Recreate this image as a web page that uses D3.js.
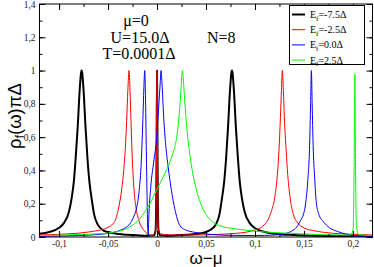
<!DOCTYPE html>
<html>
<head>
<meta charset="utf-8">
<script src="https://cdn.jsdelivr.net/npm/d3@7"></script>
<style>
  body { margin: 0; background: #fff; }
  svg { display: block; }
  .tick text { font-family: "Liberation Serif", serif; font-size: 9.5px; fill: #222; }
</style>
</head>
<body>
<div id="vis"></div>
<script>

// values, x in units of omega-mu
var blackX = [-0.12, -0.11, -0.10, -0.095, -0.09, -0.087, -0.085, -0.083, -0.081, -0.079, -0.0775, -0.077, -0.0765, -0.075, -0.073, -0.071, -0.069, -0.067, -0.064, -0.06, -0.055, -0.05, -0.04, -0.03, -0.02, -0.01, -0.003, -0.0015, -0.0007, 0, 0.0007, 0.0015, 0.003, 0.01, 0.02, 0.03, 0.04, 0.05, 0.055, 0.06, 0.0635, 0.0665, 0.0685, 0.0705, 0.0725, 0.0745, 0.076, 0.0765, 0.077, 0.0785, 0.0805, 0.0825, 0.0845, 0.0865, 0.0895, 0.0945, 0.0995, 0.11, 0.12, 0.14, 0.16, 0.18, 0.20, 0.22];
var blackY = [0.02, 0.03, 0.055, 0.085, 0.15, 0.24, 0.33, 0.48, 0.66, 0.88, 0.99, 1.0, 0.99, 0.88, 0.66, 0.47, 0.33, 0.24, 0.13, 0.07, 0.04, 0.03, 0.018, 0.013, 0.01, 0.008, 0.01, 0.04, 0.3, 1.0, 0.3, 0.04, 0.01, 0.008, 0.01, 0.013, 0.018, 0.03, 0.045, 0.075, 0.13, 0.24, 0.33, 0.47, 0.66, 0.88, 0.99, 1.0, 0.99, 0.88, 0.66, 0.48, 0.33, 0.24, 0.15, 0.085, 0.055, 0.03, 0.02, 0.012, 0.008, 0.006, 0.005, 0.004];

var redX = [-0.12, -0.11, -0.10, -0.09, -0.08, -0.07, -0.06, -0.05, -0.045, -0.042, -0.039, -0.036, -0.034, -0.0325, -0.031, -0.0298, -0.0286, -0.0276, -0.0266, -0.0256, -0.0245, -0.023, -0.021, -0.018, -0.014, -0.01, -0.005, -0.0015, -0.0007, 0, 0.0007, 0.0015, 0.003, 0.008, 0.02, 0.04, 0.06, 0.08, 0.09, 0.10, 0.108, 0.113, 0.117, 0.120, 0.1225, 0.1245, 0.126, 0.127, 0.128, 0.129, 0.130, 0.1318, 0.1335, 0.136, 0.139, 0.143, 0.15, 0.16, 0.17, 0.18, 0.20, 0.22];
var redY = [0.012, 0.014, 0.016, 0.019, 0.023, 0.03, 0.04, 0.058, 0.08, 0.11, 0.18, 0.29, 0.4, 0.52, 0.7, 0.88, 1.0, 0.88, 0.7, 0.52, 0.38, 0.25, 0.16, 0.09, 0.045, 0.02, 0.008, 0.03, 0.3, 1.0, 0.3, 0.05, 0.02, 0.015, 0.012, 0.012, 0.015, 0.022, 0.028, 0.042, 0.065, 0.1, 0.16, 0.23, 0.35, 0.52, 0.72, 0.88, 1.0, 0.88, 0.72, 0.52, 0.37, 0.23, 0.14, 0.09, 0.055, 0.038, 0.028, 0.022, 0.016, 0.012];

var blueX = [-0.12, -0.1, -0.08, -0.058, -0.048, -0.04, -0.034, -0.03, -0.027, -0.024, -0.0207, -0.0182, -0.0161, -0.0146, -0.0134, -0.0126, -0.0118, -0.011, -0.0102, -0.0095, -0.009, -0.0085, -0.0064, -0.0034, -0.0003, 0.0017, 0.0033, 0.0041, 0.005, 0.0068, 0.0089, 0.0114, 0.0147, 0.0181, 0.0232, 0.0283, 0.0385, 0.0538, 0.0742, 0.0997, 0.12, 0.1303, 0.1374, 0.1426, 0.1466, 0.1497, 0.1517, 0.1538, 0.1558, 0.1568, 0.1576, 0.1584, 0.1594, 0.1609, 0.1624, 0.165, 0.1701, 0.1762, 0.1844, 0.1926, 0.1997, 0.2028, 0.22];
var blueY = [0.004, 0.006, 0.009, 0.016, 0.024, 0.035, 0.05, 0.065, 0.085, 0.12, 0.18, 0.28, 0.45, 0.68, 0.9, 1.0, 0.85, 0.55, 0.25, 0.05, 0.01, 0.1, 0.3, 0.45, 0.6, 0.78, 0.93, 1.0, 0.93, 0.72, 0.55, 0.42, 0.28, 0.17, 0.07, 0.045, 0.028, 0.016, 0.01, 0.009, 0.012, 0.02, 0.035, 0.06, 0.1, 0.14, 0.2, 0.33, 0.55, 0.8, 1.0, 0.8, 0.55, 0.36, 0.22, 0.14, 0.09, 0.055, 0.033, 0.018, 0.008, 0.003, 0.002];

var greenX = [-0.12, -0.1, -0.08, -0.058, -0.043, -0.033, -0.028, -0.023, -0.0177, -0.0126, -0.0074, -0.0023, 0.0028, 0.0079, 0.013, 0.017, 0.0201, 0.0221, 0.0242, 0.0252, 0.0259, 0.0267, 0.0278, 0.0298, 0.0323, 0.0354, 0.0395, 0.0446, 0.0507, 0.0568, 0.064, 0.0793, 0.0997, 0.1252, 0.1558, 0.1865, 0.1977, 0.2002, 0.2012, 0.202, 0.2027, 0.2037, 0.2058, 0.22];
var greenY = [0.008, 0.011, 0.015, 0.02, 0.03, 0.045, 0.06, 0.08, 0.11, 0.15, 0.2, 0.26, 0.32, 0.38, 0.45, 0.52, 0.6, 0.7, 0.86, 0.96, 1.0, 0.96, 0.86, 0.7, 0.55, 0.42, 0.3, 0.2, 0.13, 0.09, 0.068, 0.05, 0.035, 0.025, 0.017, 0.012, 0.012, 0.05, 0.4, 0.98, 0.4, 0.06, 0.015, 0.008];

var seriesNames = ['E_f=-7.5Δ', 'E_f=-2.5Δ', 'E_f=0.0Δ', 'E_f=2.5Δ'];
var xTicks = [-0.1, -0.05, 0, 0.05, 0.1, 0.15, 0.2];
var yTicks = [0, 0.2, 0.4, 0.6, 0.8, 1, 1.2, 1.4];

var width = 374;
var height = 267;
var margin = { top: 4, right: 2, bottom: 30, left: 39 };

var x = d3.scaleLinear().domain([-0.12, 0.22]).range([margin.left + 0.5, width - margin.right + 0.5]);
var y = d3.scaleLinear().domain([0, 1.4]).range([height - margin.bottom, margin.top]);

var comma = function(v) { return String(+v.toFixed(3)).replace('.', ','); };

var svg = d3.select('#vis').append('svg')
  .attr('width', width)
  .attr('height', height);

svg.append('clipPath').attr('id', 'clip')
  .append('rect')
  .attr('x', x.range()[0]).attr('y', y.range()[1])
  .attr('width', x.range()[1] - x.range()[0])
  .attr('height', y.range()[0] - y.range()[1]);

var series = [
  { xs: blackX, ys: blackY, color: '#000000', w: 2 },
  { xs: redX, ys: redY, color: '#ff0000', w: 1 },
  { xs: blueX, ys: blueY, color: '#0000ff', w: 1 },
  { xs: greenX, ys: greenY, color: '#00ff00', w: 1 }
];

var line = d3.line()
  .x(function(d) { return x(d[0]); })
  .y(function(d) { return y(d[1]); })
  .curve(d3.curveMonotoneX);

var g = svg.append('g').attr('clip-path', 'url(#clip)');
series.forEach(function(s) {
  var pts = s.xs.map(function(v, i) { return [v, s.ys[i]]; });
  g.append('path')
    .datum(pts)
    .attr('fill', 'none')
    .attr('stroke', s.color)
    .attr('stroke-width', s.w)
    .attr('stroke-linejoin', 'round')
    .attr('d', line);
});

// axes, ticks pointing inside on all four sides
var x0 = y.range()[0], x1 = y.range()[1];
function drawAxis(axis, tr) {
  var a = svg.append('g').attr('transform', tr).call(axis);
  a.select('.domain').remove();
  a.selectAll('.tick line').attr('stroke', '#000');
  return a;
}
var xMinor = d3.range(-0.1, 0.2201, 0.025);
var yMinor = d3.range(0, 1.401, 0.1);

drawAxis(d3.axisBottom(x).tickValues(xTicks).tickSize(-6).tickPadding(3).tickFormat(comma), 'translate(0,' + x0 + ')');
drawAxis(d3.axisBottom(x).tickValues(xMinor).tickSize(-3).tickFormat(''), 'translate(0,' + x0 + ')');
drawAxis(d3.axisTop(x).tickValues(xTicks).tickSize(-6).tickFormat(''), 'translate(0,' + x1 + ')');
drawAxis(d3.axisTop(x).tickValues(xMinor).tickSize(-3).tickFormat(''), 'translate(0,' + x1 + ')');

var L = x.range()[0], R = x.range()[1];
drawAxis(d3.axisLeft(y).tickValues(yTicks).tickSize(-6).tickPadding(4).tickFormat(comma), 'translate(' + L + ',0)');
drawAxis(d3.axisLeft(y).tickValues(yMinor).tickSize(-3).tickFormat(''), 'translate(' + L + ',0)');
drawAxis(d3.axisRight(y).tickValues(yTicks).tickSize(-6).tickFormat(''), 'translate(' + R + ',0)');
drawAxis(d3.axisRight(y).tickValues(yMinor).tickSize(-3).tickFormat(''), 'translate(' + R + ',0)');

svg.append('rect')
  .attr('x', L).attr('y', x1)
  .attr('width', R - L).attr('height', x0 - x1)
  .attr('fill', 'none').attr('stroke', '#000').attr('stroke-width', 1);

// annotations
var serif = '"Liberation Serif", serif';
var notes = [['μ=0', 136, 26], ['U=15.0Δ', 140, 43], ['T=0.0001Δ', 139, 58.5]];
notes.forEach(function(n) {
  svg.append('text').attr('x', n[1]).attr('y', n[2])
    .attr('text-anchor', 'middle')
    .style('font-family', serif).style('font-size', '16px')
    .text(n[0]);
});
svg.append('text').attr('x', 207).attr('y', 43)
  .style('font-family', serif).style('font-size', '16px')
  .text('N=8');

// axis titles
svg.append('text').attr('x', 206).attr('y', 264)
  .attr('text-anchor', 'middle')
  .style('font-family', '"Liberation Sans", sans-serif').style('font-size', '17px')
  .text('ω−μ');

var yt = svg.append('text')
  .attr('transform', 'translate(21,' + 116 + ') rotate(-90)')
  .attr('text-anchor', 'middle')
  .style('font-family', '"Liberation Sans", sans-serif').style('font-size', '18.5px');
yt.append('tspan').text('ρ');
yt.append('tspan').attr('dy', 3).style('font-size', '12px').text('f');
yt.append('tspan').attr('dy', -3).text('(ω)πΔ');

// legend
var lg = svg.append('g');
lg.append('rect')
  .attr('x', 289.5).attr('y', 5.5).attr('width', 75).attr('height', 59)
  .attr('fill', '#fff').attr('stroke', '#000').attr('stroke-width', 1);
seriesNames.forEach(function(name, i) {
  var cy = 14.5 + i * 15.2;
  lg.append('line')
    .attr('x1', 292).attr('x2', 305).attr('y1', cy).attr('y2', cy)
    .attr('stroke', series[i].color).attr('stroke-width', series[i].w);
  var t = lg.append('text').attr('x', 310).attr('y', cy + 3.5)
    .style('font-family', serif).style('font-size', '10px');
  var parts = name.split('_');
  t.append('tspan').text(parts[0]);
  t.append('tspan').attr('dy', 2.5).style('font-size', '7px').text(parts[1].charAt(0));
  t.append('tspan').attr('dy', -2.5).text(parts[1].slice(1));
});

</script>
</body>
</html>
